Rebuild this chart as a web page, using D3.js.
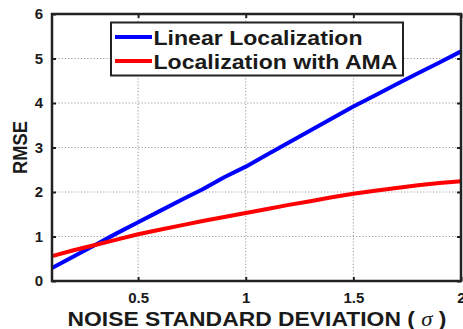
<!DOCTYPE html>
<html>
<head>
<meta charset="utf-8">
<script src="https://cdn.jsdelivr.net/npm/d3@7"></script>
<style>
  html, body { margin: 0; padding: 0; background: #fff; }
  svg { display: block; }
  text { font-family: "Liberation Sans", Arial, sans-serif; font-weight: bold; fill: #1a1a1a; }
</style>
</head>
<body>
<svg id="chart" width="463" height="329"></svg>
<script>
// Noise standard deviation (sigma) samples
const sigma = [0.1,0.2,0.3,0.4,0.5,0.6,0.7,0.8,0.9,1.0,1.1,1.2,1.3,1.4,1.5,1.6,1.7,1.8,1.9,2.0];
// RMSE of each localization method
const linearRmse = [0.29,0.55,0.81,1.07,1.32,1.57,1.82,2.06,2.33,2.57,2.84,3.11,3.38,3.65,3.92,4.17,4.42,4.67,4.91,5.16];
const amaRmse    = [0.56,0.69,0.81,0.93,1.05,1.15,1.25,1.35,1.44,1.53,1.62,1.71,1.79,1.88,1.96,2.03,2.09,2.15,2.20,2.24];
const seriesNames = ["Linear Localization", "Localization with AMA"];
const seriesColors = ["#0000ff", "#ff0000"];
const xTicks = [0.5, 1, 1.5, 2];
const xTickLabels = ["0.5", "1", "1.5", "2"];
const yTicks = [0, 1, 2, 3, 4, 5, 6];
const xTitleParts = ["NOISE STANDARD DEVIATION ( ", "\u03c3", " )"];
const yTitle = "RMSE";

const svg = d3.select("#chart");
const margin = {left: 52, right: 2, top: 14, bottom: 48};
const W = 463, H = 329;
const x = d3.scaleLinear().domain([0.1, 2]).range([margin.left, W - margin.right]);
const y = d3.scaleLinear().domain([0, 6]).range([H - margin.bottom, margin.top]);
const x0 = x.range()[0], x1 = x.range()[1], y0 = y.range()[0], y1 = y.range()[1];

// dotted grid
const grid = svg.append("g").attr("stroke", "#9a9a9a").attr("stroke-width", 1)
  .attr("stroke-dasharray", "1.2,2");
grid.selectAll("line.gx").data(xTicks.filter(t => t < 2)).join("line")
  .attr("x1", d => x(d)).attr("x2", d => x(d)).attr("y1", y0).attr("y2", y1);
grid.selectAll("line.gy").data(yTicks.filter(t => t > 0 && t < 6)).join("line")
  .attr("y1", d => y(d)).attr("y2", d => y(d)).attr("x1", x0).attr("x2", x1);

// data lines
const line = d3.line().x((d, i) => x(sigma[i])).y(d => y(d));
[linearRmse, amaRmse].forEach((s, k) => {
  svg.append("path").datum(s).attr("d", line).attr("fill", "none")
    .attr("stroke", seriesColors[k]).attr("stroke-width", 4).attr("stroke-linejoin", "round");
});

// axes (ticks inside, mirrored on top/right)
const tickLen = 4;
const axisBottom = d3.axisBottom(x).tickValues(xTicks).tickSizeInner(-tickLen).tickSizeOuter(0)
  .tickFormat((d, i) => xTickLabels[i]).tickPadding(11);
const gx = svg.append("g").attr("transform", `translate(0,${y0})`).call(axisBottom);
gx.selectAll("text").style("font-size", "15px").attr("fill", "#262626");
const axisLeft = d3.axisLeft(y).tickValues(yTicks).tickSizeInner(-tickLen).tickSizeOuter(0)
  .tickFormat(d3.format("d")).tickPadding(9);
const gy = svg.append("g").attr("transform", `translate(${x0},0)`).call(axisLeft);
gy.selectAll("text").style("font-size", "15px").attr("fill", "#262626");
const gxt = svg.append("g").attr("transform", `translate(0,${y1})`)
  .call(d3.axisTop(x).tickValues(xTicks).tickSizeInner(-tickLen).tickSizeOuter(0).tickFormat(""));
const gyr = svg.append("g").attr("transform", `translate(${x1},0)`)
  .call(d3.axisRight(y).tickValues(yTicks).tickSizeInner(-tickLen).tickSizeOuter(0).tickFormat(""));
[gx, gy, gxt, gyr].forEach(g => {
  g.select(".domain").remove();
  g.selectAll(".tick line").attr("stroke", "#222").attr("stroke-width", 2);
});

// frame
svg.append("rect").attr("x", x0).attr("y", y1).attr("width", x1 - x0).attr("height", y0 - y1)
  .attr("fill", "none").attr("stroke", "#222").attr("stroke-width", 2.5);

// legend
const lg = svg.append("g");
lg.append("rect").attr("x", 111).attr("y", 22.5).attr("width", 292).attr("height", 53)
  .attr("fill", "#fff").attr("stroke", "#222").attr("stroke-width", 2);
const legendRows = [{yl: 37, yt: 44.5, w: 209}, {yl: 61, yt: 68.5, w: 244}];
legendRows.forEach((r, k) => {
  lg.append("line").attr("x1", 115).attr("x2", 152).attr("y1", r.yl).attr("y2", r.yl)
    .attr("stroke", seriesColors[k]).attr("stroke-width", 4);
  lg.append("text").attr("x", 153.5).attr("y", r.yt).style("font-size", "20px")
    .attr("textLength", r.w).attr("lengthAdjust", "spacingAndGlyphs")
    .attr("fill", "#111").text(seriesNames[k]);
});

// axis titles
const xt = svg.append("text").attr("x", 257).attr("y", 325.5).attr("text-anchor", "middle")
  .style("font-size", "21px").attr("textLength", 379).attr("lengthAdjust", "spacingAndGlyphs");
xt.append("tspan").text(xTitleParts[0]);
xt.append("tspan").style("font-style", "italic").style("font-weight", "normal")
  .style("font-family", "'Liberation Serif', serif").text(xTitleParts[1]);
xt.append("tspan").text(xTitleParts[2]);
svg.append("text").attr("transform", "translate(27,147.5) rotate(-90)").attr("text-anchor", "middle")
  .style("font-size", "20px").attr("textLength", 53).attr("lengthAdjust", "spacingAndGlyphs")
  .text(yTitle);
</script>
</body>
</html>
